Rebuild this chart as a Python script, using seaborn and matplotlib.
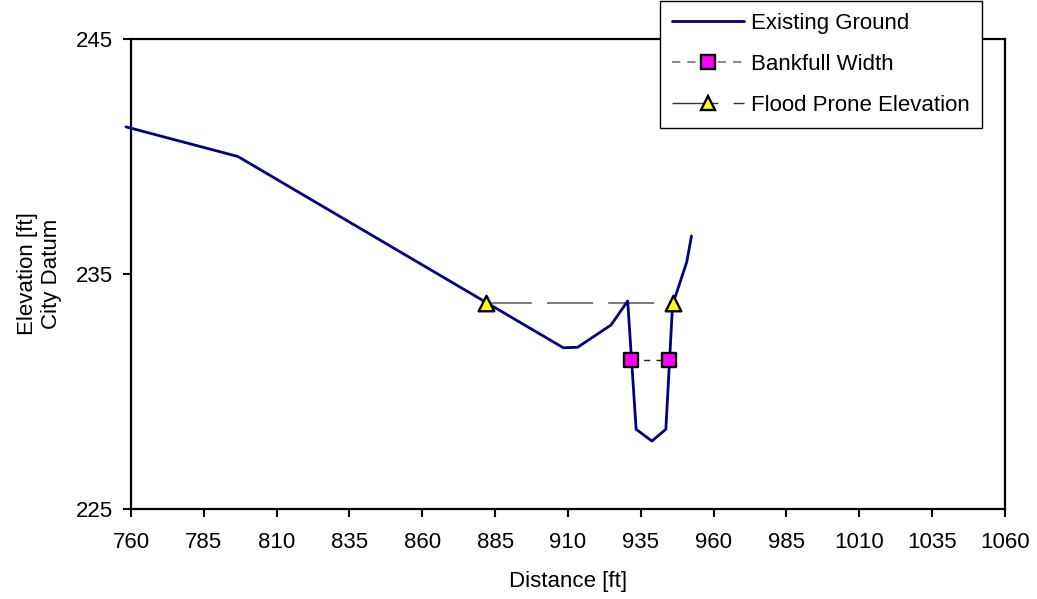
import matplotlib
matplotlib.use("Agg")
import matplotlib.pyplot as plt
import seaborn as sns
import pandas as pd

# Surveyed cross-section: station [ft] and ground elevation [ft]
ground_station = [758.3, 796.7, 908.4, 913.3, 924.8, 930.5, 933.4, 938.8, 943.6, 945.9, 950.8, 952.4]
ground_elev = [241.26, 240.0, 231.86, 231.88, 232.83, 233.85, 228.39, 227.89, 228.39, 233.68, 235.52, 236.62]

# Bankfull width endpoints
bankfull_station = [931.5, 944.7]
bankfull_elev = [231.34, 231.34]

# Flood prone elevation endpoints
flood_station = [881.9, 945.9]
flood_elev = [233.75, 233.75]

x_ticks = list(range(760, 1061, 25))
y_ticks = [225, 235, 245]

sns.set_theme(style="white")
plt.rcParams["font.family"] = ["Liberation Sans", "DejaVu Sans"]
plt.rcParams["lines.scale_dashes"] = False
plt.rcParams["text.color"] = "black"
plt.rcParams["axes.labelcolor"] = "black"
plt.rcParams["xtick.color"] = "black"
plt.rcParams["ytick.color"] = "black"

FS = 16
FLOOD_DASH = [33, 11]
BANK_DASH = [4.5, 4.5]

fig = plt.figure(figsize=(10.37, 5.99), dpi=100)
ax = fig.add_axes([0.1263, 0.1503, 0.9691 - 0.1263, 0.9349 - 0.1503])

ground = pd.DataFrame({"Distance": ground_station, "Elevation": ground_elev})
bank = pd.DataFrame({"Distance": bankfull_station, "Elevation": bankfull_elev})
flood = pd.DataFrame({"Distance": flood_station, "Elevation": flood_elev})

sns.lineplot(data=flood, x="Distance", y="Elevation", ax=ax, sort=False,
             color="#6e6e6e", linewidth=1.3, zorder=2)
ax.lines[-1].set_dashes(FLOOD_DASH)
sns.lineplot(data=ground, x="Distance", y="Elevation", ax=ax, sort=False,
             color="#000080", linewidth=2.0, zorder=3)
ax.lines[-1].set_clip_on(False)
sns.lineplot(data=bank, x="Distance", y="Elevation", ax=ax, sort=False,
             color="#222222", linewidth=1.0, zorder=4)
ax.lines[-1].set_dashes(BANK_DASH)

# Markers on top of the lines
sns.scatterplot(data=bank, x="Distance", y="Elevation", ax=ax, marker="s",
                s=115, color="#ff00ff", edgecolor="black", linewidth=1.7, zorder=5)
sns.scatterplot(data=flood, x="Distance", y="Elevation", ax=ax, marker="^",
                s=125, color="#ffff00", edgecolor="black", linewidth=1.7, zorder=5)

ax.set_xlim(760, 1060)
ax.set_ylim(225, 245)
ax.set_xticks(x_ticks)
ax.set_yticks(y_ticks)
ax.tick_params(axis="both", labelsize=FS, length=6, width=1.5,
               direction="out", bottom=True, left=True, pad=7)
ax.tick_params(axis="x", pad=10.5)
for sp in ax.spines.values():
    sp.set_visible(True)
    sp.set_color("black")
    sp.set_linewidth(1.6)

ax.set_xlabel("Distance [ft]", fontsize=FS, labelpad=13)
ax.set_ylabel("Elevation [ft]\nCity Datum", fontsize=FS, labelpad=10)

# Legend entries
h_ground = plt.Line2D([], [], color="#000080", linewidth=2.0)
h_bank = plt.Line2D([], [], color="#808080", linewidth=1.3, dashes=[6, 5],
                    marker="s", markersize=9.5, markerfacecolor="#ff00ff",
                    markeredgecolor="black", markeredgewidth=1.7)
h_flood = plt.Line2D([], [], color="#333333", linewidth=1.0, dashes=FLOOD_DASH,
                     marker="^", markersize=9.5, markerfacecolor="#ffff00",
                     markeredgecolor="black", markeredgewidth=1.7)
leg = fig.legend([h_ground, h_bank, h_flood],
                 ["Existing Ground", "Bankfull Width", "Flood Prone Elevation"],
                 loc="upper left", bbox_to_anchor=(660 / 1037, 1 - 1 / 599),
                 fontsize=FS, frameon=True, fancybox=False, framealpha=1,
                 edgecolor="black", handlelength=3.25, handletextpad=0.3,
                 labelspacing=0.9, borderpad=0.55, borderaxespad=0)
leg.get_frame().set_linewidth(1.0)

fig.savefig("out.png", dpi=100)
